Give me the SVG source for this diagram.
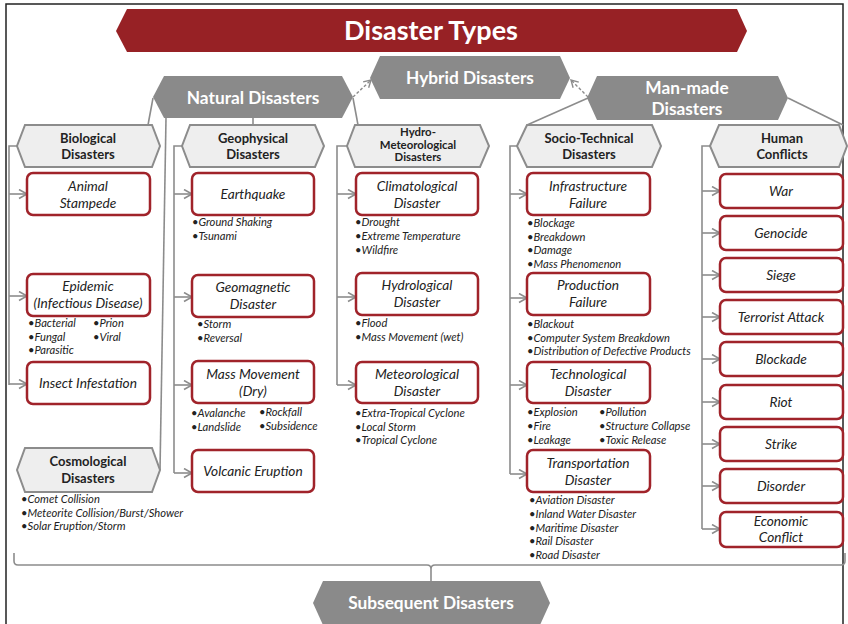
<svg xmlns="http://www.w3.org/2000/svg" width="848" height="624" viewBox="0 0 848 624">
<defs>
<marker id="arr" markerUnits="userSpaceOnUse" markerWidth="12" markerHeight="12" refX="9" refY="5" orient="auto">
<path d="M1,0.5 L9,5 L1,9.5" fill="none" stroke="#8c8c8c" stroke-width="1.6"/>
</marker>
<marker id="arrd" markerUnits="userSpaceOnUse" markerWidth="12" markerHeight="12" refX="8" refY="4.5" orient="auto">
<path d="M1,0.5 L8,4.5 L1,8.5" fill="none" stroke="#8c8c8c" stroke-width="1.4"/>
</marker>
<style>
.frame{fill:#fff;stroke:#222;stroke-width:1.5}
.title{fill:#972125}
.grp{fill:#8a8a8a}
.hdr{fill:#eeeeee;stroke:#8c8c8c;stroke-width:2}
.box{fill:#fff;stroke:#a0232a;stroke-width:2.5}
.ln{fill:none;stroke:#8c8c8c;stroke-width:1.6}
.ar{fill:none;stroke:#8c8c8c;stroke-width:1.6;marker-end:url(#arr)}
.dash{fill:none;stroke:#8c8c8c;stroke-width:1.4;stroke-dasharray:3,2;marker-end:url(#arrd)}
text{font-family:Lato,"Open Sans","Liberation Sans",sans-serif}
.tt{font-size:27px;font-weight:bold;fill:#fff;text-anchor:middle}
.gt{font-size:17.3px;font-weight:bold;fill:#fff;text-anchor:middle}
.ht{font-size:13px;font-weight:bold;fill:#222;text-anchor:middle}
.hs{font-size:11.4px;font-weight:bold;fill:#222;text-anchor:middle}
.bt{font-size:13.7px;font-style:italic;fill:#222;text-anchor:middle}
.bl{font-size:11.2px;font-style:italic;fill:#222}
</style>
</defs>
<rect class="frame" x="6" y="4" width="837" height="640"/>

<g id="connectors">
<line class="dash" x1="353" y1="97" x2="371" y2="80"/>
<line class="dash" x1="588" y1="97" x2="571" y2="80"/>
<line class="ln" x1="153" y1="98" x2="148" y2="125"/>
<line class="ln" x1="253" y1="118" x2="253" y2="125"/>
<line class="ln" x1="353" y1="98" x2="358" y2="125"/>
<line class="ln" x1="166" y1="118" x2="160" y2="470"/>
<line class="ln" x1="588" y1="98" x2="527" y2="125"/>
<line class="ln" x1="788" y1="98" x2="843" y2="125"/>
<polyline class="ln" points="17,146 9,146 9,385"/>
<line class="ar" x1="9" y1="194" x2="27" y2="194"/>
<line class="ar" x1="9" y1="296" x2="27" y2="296"/>
<line class="ar" x1="9" y1="384" x2="27" y2="384"/>
<polyline class="ln" points="182,146 174,146 174,473"/>
<line class="ar" x1="174" y1="194" x2="192" y2="194"/>
<line class="ar" x1="174" y1="297" x2="192" y2="297"/>
<line class="ar" x1="174" y1="385" x2="192" y2="385"/>
<line class="ar" x1="174" y1="473" x2="192" y2="473"/>
<polyline class="ln" points="347,146 337,146 337,385"/>
<line class="ar" x1="337" y1="194" x2="356" y2="194"/>
<line class="ar" x1="337" y1="297" x2="356" y2="297"/>
<line class="ar" x1="337" y1="385" x2="356" y2="385"/>
<polyline class="ln" points="517,146 510,146 510,474"/>
<line class="ar" x1="510" y1="194" x2="527" y2="194"/>
<line class="ar" x1="510" y1="298" x2="527" y2="298"/>
<line class="ar" x1="510" y1="385" x2="527" y2="385"/>
<line class="ar" x1="510" y1="474" x2="527" y2="474"/>
<polyline class="ln" points="710,146 702,146 702,529"/>
<line class="ar" x1="702" y1="191" x2="720" y2="191"/>
<line class="ar" x1="702" y1="233" x2="720" y2="233"/>
<line class="ar" x1="702" y1="275" x2="720" y2="275"/>
<line class="ar" x1="702" y1="317" x2="720" y2="317"/>
<line class="ar" x1="702" y1="359" x2="720" y2="359"/>
<line class="ar" x1="702" y1="402" x2="720" y2="402"/>
<line class="ar" x1="702" y1="444" x2="720" y2="444"/>
<line class="ar" x1="702" y1="486" x2="720" y2="486"/>
<line class="ar" x1="702" y1="529" x2="720" y2="529"/>
<path class="ln" d="M14,553 L14,561 Q14,565 18,565 L427,565 Q431,565 431,569 L431,581 M431,569 Q431,565 435,565 L841,565 Q845,565 845,561 L845,553"/>
</g>

<g id="title">
<polygon class="title" points="127,9 737,9 747,31 737,52 127,52 116,31"/>
<text class="tt" x="431" y="40">Disaster Types</text>
</g>

<g id="hybrid">
<polygon class="grp" points="380,56 560,56 570,78 560,99 380,99 370,78"/>
<text class="gt" x="470" y="84">Hybrid Disasters</text>
</g>
<g id="natural">
<polygon class="grp" points="164,76 342,76 353,97 342,118 164,118 153,97"/>
<text class="gt" x="253" y="104">Natural Disasters</text>
</g>
<g id="manmade">
<polygon class="grp" points="597,76 778,76 788,98 778,120 597,120 587,98"/>
<text class="gt" x="687" y="94">Man-made</text>
<text class="gt" x="687" y="115">Disasters</text>
</g>

<g id="biological">
<polygon class="hdr" points="25,125 152,125 160,146 152,167 25,167 17,146"/>
<text class="ht" x="88" y="143">Biological</text>
<text class="ht" x="88" y="159">Disasters</text>
</g>
<g id="geophysical">
<polygon class="hdr" points="190,125 315,125 324,146 315,167 190,167 182,146"/>
<text class="ht" x="253" y="143">Geophysical</text>
<text class="ht" x="253" y="159">Disasters</text>
</g>
<g id="hydromet">
<polygon class="hdr" points="355,125 480,125 489,146 480,167 355,167 347,146"/>
<text class="hs" x="418" y="136">Hydro-</text>
<text class="hs" x="418" y="148.5">Meteorological</text>
<text class="hs" x="418" y="161">Disasters</text>
</g>
<g id="sociotech">
<polygon class="hdr" points="527,125 652,125 661,146 652,167 527,167 517,146"/>
<text class="ht" x="589" y="143">Socio-Technical</text>
<text class="ht" x="589" y="159">Disasters</text>
</g>
<g id="human">
<polygon class="hdr" points="719,125 839,125 847,146 839,167 719,167 710,146"/>
<text class="ht" x="782" y="143">Human</text>
<text class="ht" x="782" y="159">Conflicts</text>
</g>

<g id="animal">
<rect class="box" x="27" y="173" width="123" height="42" rx="6"/>
<text class="bt" x="88" y="191">Animal</text>
<text class="bt" x="88" y="208">Stampede</text>
</g>
<g id="epidemic">
<rect class="box" x="27" y="274" width="123" height="42" rx="6"/>
<text class="bt" x="88" y="291">Epidemic</text>
<text class="bt" x="88" y="308">(Infectious Disease)</text>
<text class="bl" x="28" y="327">•Bacterial</text>
<text class="bl" x="28" y="341">•Fungal</text>
<text class="bl" x="28" y="354">•Parasitic</text>
<text class="bl" x="93" y="327">•Prion</text>
<text class="bl" x="93" y="341">•Viral</text>
</g>
<g id="insect">
<rect class="box" x="27" y="362" width="123" height="42" rx="6"/>
<text class="bt" x="88" y="388">Insect Infestation</text>
</g>
<g id="cosmological">
<polygon class="hdr" points="25,448 152,448 160,470 152,492 25,492 17,470"/>
<text class="ht" x="88" y="466">Cosmological</text>
<text class="ht" x="88" y="483">Disasters</text>
<text class="bl" x="21" y="503">•Comet Collision</text>
<text class="bl" x="21" y="517">•Meteorite Collision/Burst/Shower</text>
<text class="bl" x="21" y="530">•Solar Eruption/Storm</text>
</g>

<g id="earthquake">
<rect class="box" x="192" y="173" width="122" height="42" rx="6"/>
<text class="bt" x="253" y="199">Earthquake</text>
<text class="bl" x="192" y="226">•Ground Shaking</text>
<text class="bl" x="192" y="240">•Tsunami</text>
</g>
<g id="geomagnetic">
<rect class="box" x="192" y="275" width="122" height="42" rx="6"/>
<text class="bt" x="253" y="292">Geomagnetic</text>
<text class="bt" x="253" y="309">Disaster</text>
<text class="bl" x="197" y="328">•Storm</text>
<text class="bl" x="197" y="342">•Reversal</text>
</g>
<g id="massdry">
<rect class="box" x="192" y="361" width="122" height="42" rx="6"/>
<text class="bt" x="253" y="379">Mass Movement</text>
<text class="bt" x="253" y="396">(Dry)</text>
<text class="bl" x="191" y="417">•Avalanche</text>
<text class="bl" x="191" y="431">•Landslide</text>
<text class="bl" x="259" y="416">•Rockfall</text>
<text class="bl" x="259" y="430">•Subsidence</text>
</g>
<g id="volcanic">
<rect class="box" x="192" y="450" width="122" height="42" rx="6"/>
<text class="bt" x="253" y="476">Volcanic Eruption</text>
</g>

<g id="climatological">
<rect class="box" x="356" y="173" width="122" height="42" rx="6"/>
<text class="bt" x="417" y="191">Climatological</text>
<text class="bt" x="417" y="208">Disaster</text>
<text class="bl" x="355" y="226">•Drought</text>
<text class="bl" x="355" y="240">•Extreme Temperature</text>
<text class="bl" x="355" y="254">•Wildfire</text>
</g>
<g id="hydrological">
<rect class="box" x="356" y="273" width="122" height="42" rx="6"/>
<text class="bt" x="417" y="290">Hydrological</text>
<text class="bt" x="417" y="307">Disaster</text>
<text class="bl" x="355" y="327">•Flood</text>
<text class="bl" x="355" y="341">•Mass Movement (wet)</text>
</g>
<g id="meteorological">
<rect class="box" x="356" y="362" width="122" height="41" rx="6"/>
<text class="bt" x="417" y="379">Meteorological</text>
<text class="bt" x="417" y="396">Disaster</text>
<text class="bl" x="355" y="417">•Extra-Tropical Cyclone</text>
<text class="bl" x="355" y="431">•Local Storm</text>
<text class="bl" x="355" y="444">•Tropical Cyclone</text>
</g>

<g id="infrastructure">
<rect class="box" x="527" y="173" width="123" height="42" rx="6"/>
<text class="bt" x="588" y="191">Infrastructure</text>
<text class="bt" x="588" y="208">Failure</text>
<text class="bl" x="527" y="227">•Blockage</text>
<text class="bl" x="527" y="241">•Breakdown</text>
<text class="bl" x="527" y="254">•Damage</text>
<text class="bl" x="527" y="268">•Mass Phenomenon</text>
</g>
<g id="production">
<rect class="box" x="527" y="273" width="123" height="42" rx="6"/>
<text class="bt" x="588" y="290">Production</text>
<text class="bt" x="588" y="307">Failure</text>
<text class="bl" x="527" y="328">•Blackout</text>
<text class="bl" x="527" y="342">•Computer System Breakdown</text>
<text class="bl" x="527" y="355">•Distribution of Defective Products</text>
</g>
<g id="technological">
<rect class="box" x="527" y="362" width="123" height="41" rx="6"/>
<text class="bt" x="588" y="379">Technological</text>
<text class="bt" x="588" y="396">Disaster</text>
<text class="bl" x="527" y="416">•Explosion</text>
<text class="bl" x="527" y="430">•Fire</text>
<text class="bl" x="527" y="444">•Leakage</text>
<text class="bl" x="599" y="416">•Pollution</text>
<text class="bl" x="599" y="430">•Structure Collapse</text>
<text class="bl" x="599" y="444">•Toxic Release</text>
</g>
<g id="transportation">
<rect class="box" x="527" y="450" width="123" height="42" rx="6"/>
<text class="bt" x="588" y="468">Transportation</text>
<text class="bt" x="588" y="485">Disaster</text>
<text class="bl" x="529" y="504">•Aviation Disaster</text>
<text class="bl" x="529" y="518">•Inland Water Disaster</text>
<text class="bl" x="529" y="532">•Maritime Disaster</text>
<text class="bl" x="529" y="545">•Rail Disaster</text>
<text class="bl" x="529" y="559">•Road Disaster</text>
</g>

<g id="war"><rect class="box" x="720" y="174" width="123" height="34" rx="6"/><text class="bt" x="781" y="196">War</text></g>
<g id="genocide"><rect class="box" x="720" y="216" width="123" height="34" rx="6"/><text class="bt" x="781" y="238">Genocide</text></g>
<g id="siege"><rect class="box" x="720" y="258" width="123" height="34" rx="6"/><text class="bt" x="781" y="280">Siege</text></g>
<g id="terrorist"><rect class="box" x="720" y="300" width="123" height="34" rx="6"/><text class="bt" x="781" y="322">Terrorist Attack</text></g>
<g id="blockade"><rect class="box" x="720" y="342" width="123" height="34" rx="6"/><text class="bt" x="781" y="364">Blockade</text></g>
<g id="riot"><rect class="box" x="720" y="385" width="123" height="34" rx="6"/><text class="bt" x="781" y="407">Riot</text></g>
<g id="strike"><rect class="box" x="720" y="427" width="123" height="34" rx="6"/><text class="bt" x="781" y="449">Strike</text></g>
<g id="disorder"><rect class="box" x="720" y="469" width="123" height="34" rx="6"/><text class="bt" x="781" y="491">Disorder</text></g>
<g id="economic"><rect class="box" x="720" y="512" width="123" height="35" rx="6"/><text class="bt" x="781" y="526">Economic</text><text class="bt" x="781" y="542">Conflict</text></g>

<g id="subsequent">
<polygon class="grp" points="323,581 540,581 550,603 540,625 323,625 313,603"/>
<text class="gt" x="431" y="609">Subsequent Disasters</text>
</g>
</svg>
